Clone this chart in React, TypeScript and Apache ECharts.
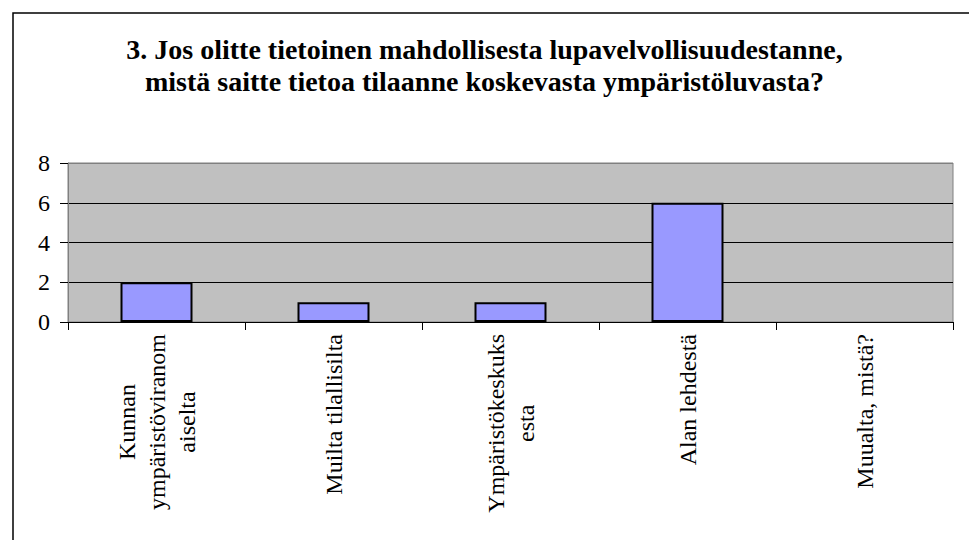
import React, { useEffect, useRef } from "react";
import * as echarts from "echarts";

const titleLines = [
  "3. Jos olitte tietoinen mahdollisesta lupavelvollisuudestanne,",
  "mistä saitte tietoa tilaanne koskevasta ympäristöluvasta?",
];
const categories = [
  "Kunnan\nympäristöviranom\naiselta",
  "Muilta tilallisilta",
  "Ympäristökeskuks\nesta",
  "Alan lehdestä",
  "Muualta, mistä?",
];
const values = [2, 1, 1, 6, 0];
const yMin = 0;
const yMax = 8;
const yInterval = 2;

const FONT = "Liberation Serif";
const LABEL_SIZE = 24;

export default function App() {
  const ref = useRef<HTMLDivElement>(null);
  useEffect(() => {
    if (!ref.current) return;
    const chart = echarts.init(ref.current, undefined, { renderer: "svg" });
    chart.setOption({
      animation: false,
      textStyle: { fontFamily: FONT },
      title: {
        text: titleLines.join("\n"),
        left: "center",
        top: 28,
        textStyle: {
          fontFamily: FONT,
          fontSize: 28,
          fontWeight: "bold",
          lineHeight: 32,
          color: "black",
        },
      },
      graphic: [
        {
          type: "rect",
          shape: { x: 13, y: 13, width: 1000, height: 600 },
          style: { fill: "none", stroke: "#000", lineWidth: 1.5 },
          silent: true,
          z: 100,
        },
      ],
      grid: {
        left: 68,
        top: 163,
        width: 885,
        height: 159,
        show: true,
        backgroundColor: "#C0C0C0",
        borderColor: "#808080",
        borderWidth: 1,
      },
      xAxis: {
        type: "category",
        data: categories,
        axisLine: { show: true, lineStyle: { color: "#000", width: 1 } },
        axisTick: { show: true, length: 8, lineStyle: { color: "#000" } },
        axisLabel: {
          interval: 0,
          rotate: 90,
          margin: 12,
          fontFamily: FONT,
          fontSize: LABEL_SIZE,
          color: "black",
          formatter: (v: string) =>
            v
              .split("\n")
              .map((s) => `{c|${s}}`)
              .join("\n"),
          rich: {
            c: {
              align: "center",
              fontFamily: FONT,
              fontSize: LABEL_SIZE,
              lineHeight: 30,
              color: "black",
            },
          },
        },
      },
      yAxis: {
        type: "value",
        min: yMin,
        max: yMax,
        interval: yInterval,
        axisLine: { show: true, lineStyle: { color: "#808080", width: 1 } },
        axisTick: { show: true, length: 8, lineStyle: { color: "#000" } },
        axisLabel: {
          margin: 18,
          fontFamily: FONT,
          fontSize: LABEL_SIZE,
          color: "black",
        },
        splitLine: {
          show: true,
          lineStyle: {
            color: ["#000", "#000", "#000", "#000", "#808080"],
            width: 1,
          },
        },
      },
      series: [
        {
          type: "bar",
          data: values.map((v) =>
            v === 0 ? { value: v, itemStyle: { borderWidth: 0 } } : v
          ),
          barWidth: 72,
          itemStyle: {
            color: "#9999FF",
            borderColor: "#000",
            borderWidth: 2,
          },
        },
      ],
    });
    return () => chart.dispose();
  }, []);
  return (
    <div
      ref={ref}
      style={{
        position: "absolute",
        left: 0,
        top: 0,
        width: 969,
        height: 540,
        background: "#fff",
      }}
    />
  );
}
